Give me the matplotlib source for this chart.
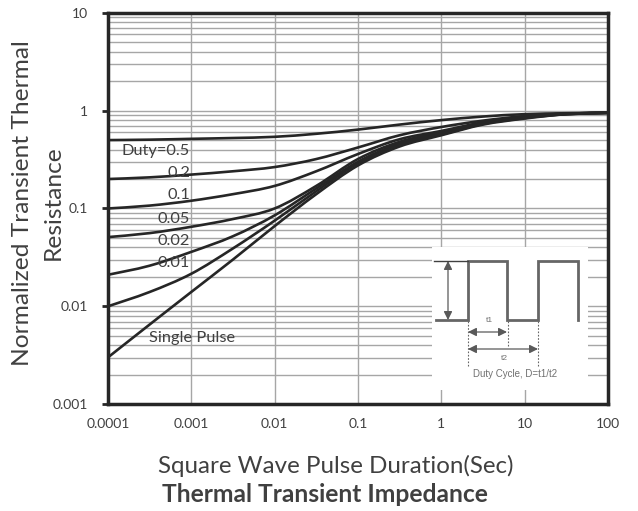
import numpy as np
import matplotlib.pyplot as plt
from matplotlib.patches import FancyArrowPatch, PathPatch
from matplotlib.path import Path
from matplotlib.ticker import LogLocator, NullFormatter

plt.rcParams['font.family'] = ['Lato', 'DejaVu Sans']

# pulse duration (s) at decade and half-decade points
t = [1e-4, 3.16e-4, 1e-3, 3.16e-3, 1e-2, 3.16e-2, 0.1, 0.316, 1, 3.16, 10, 31.6, 100]

duty_05 = [0.50, 0.505, 0.515, 0.525, 0.54, 0.58, 0.64, 0.72, 0.80, 0.87, 0.92, 0.94, 0.95]
duty_02 = [0.20, 0.208, 0.222, 0.24, 0.265, 0.32, 0.42, 0.56, 0.68, 0.79, 0.88, 0.93, 0.95]
duty_01 = [0.10, 0.107, 0.12, 0.14, 0.17, 0.24, 0.36, 0.51, 0.62, 0.76, 0.87, 0.93, 0.95]
duty_005 = [0.051, 0.056, 0.065, 0.078, 0.10, 0.17, 0.32, 0.48, 0.60, 0.75, 0.86, 0.93, 0.95]
duty_002 = [0.021, 0.026, 0.036, 0.052, 0.085, 0.16, 0.30, 0.46, 0.58, 0.74, 0.85, 0.92, 0.95]
duty_001 = [0.010, 0.014, 0.0215, 0.039, 0.075, 0.15, 0.29, 0.45, 0.57, 0.73, 0.84, 0.92, 0.95]
single = [0.003, 0.0065, 0.014, 0.030, 0.066, 0.14, 0.275, 0.43, 0.56, 0.72, 0.83, 0.92, 0.95]

series = [duty_05, duty_02, duty_01, duty_005, duty_002, duty_001, single]
labels = ['Duty=0.5', '0.2', '0.1', '0.05', '0.02', '0.01']
label_y = [0.39, 0.233, 0.136, 0.079, 0.047, 0.0275]

xticks = [1e-4, 1e-3, 1e-2, 1e-1, 1, 10, 100]
xticklabels = ['0.0001', '0.001', '0.01', '0.1', '1', '10', '100']
yticks = [1e-3, 1e-2, 1e-1, 1, 10]
yticklabels = ['0.001', '0.01', '0.1', '1', '10']

fig = plt.figure(figsize=(6.38, 5.11), dpi=100)
ax = fig.add_axes([0.169, 0.209, 0.784, 0.766])
ax.set_xscale('log')
ax.set_yscale('log')
ax.set_xlim(1e-4, 100)
ax.set_ylim(1e-3, 10)
renderer = fig.canvas.get_renderer()


def fit(txt, target_px):
    # scale a text so its long side matches the width measured on the reference
    bb = txt.get_window_extent(renderer)
    txt.set_fontsize(txt.get_fontsize() * target_px / max(bb.width, bb.height))


def smooth(x, y):
    # smoothed line like the spreadsheet one, built in log space through the points
    p = np.column_stack([np.log10(x), np.log10(y)])
    n = len(p)
    verts, codes = [p[0]], [Path.MOVETO]
    for i in range(n - 1):
        a = p[max(i - 1, 0)]
        d = p[min(i + 2, n - 1)]
        verts += [p[i] + (p[i + 1] - a) / 6, p[i + 1] - (d - p[i]) / 6, p[i + 1]]
        codes += [Path.CURVE4] * 3
    return Path(10 ** np.array(verts), codes)


ax.grid(True, which='major', axis='x', color='#a6a6a6', lw=1)
ax.grid(True, which='both', axis='y', color='#a6a6a6', lw=1)
ax.set_axisbelow(True)

for s in series:
    ax.add_patch(PathPatch(smooth(t, s), fill=False, edgecolor='#262626', lw=1.9))

first = None
for lab, ly in zip(labels, label_y):
    tx = ax.text(9.7e-4, ly, lab, ha='right', va='center', fontsize=12, color='#404040')
    if first is None:
        first = tx
fit(first, 68)
lab_size = first.get_fontsize()
for tx in ax.texts[1:]:
    tx.set_fontsize(lab_size)
ax.text(3.1e-4, 0.0047, 'Single Pulse', ha='left', va='center', fontsize=lab_size, color='#404040')

ax.set_xticks(xticks)
ax.set_xticklabels(xticklabels)
ax.set_yticks(yticks)
ax.set_yticklabels(yticklabels)
ax.yaxis.set_minor_locator(LogLocator(base=10, subs=np.arange(2, 10)))
ax.yaxis.set_minor_formatter(NullFormatter())
ax.xaxis.set_minor_locator(plt.NullLocator())
ax.tick_params(axis='y', which='minor', length=0)
ax.tick_params(axis='y', which='major', length=4, width=2, color='#262626', pad=10,
               labelsize=10, labelcolor='#404040')
ax.tick_params(axis='x', which='major', length=0, pad=10, labelsize=10, labelcolor='#404040')
for sp in ax.spines.values():
    sp.set_linewidth(2.5)
    sp.set_color('#262626')

# axis titles: positions and widths measured on the reference (pixels)
yl = fig.text(23 / 638, 1 - 203 / 511, 'Normalized Transient Thermal', rotation=90,
              ha='center', va='center', fontsize=16, color='#404040')
fit(yl, 327)
fig.text(53 / 638, 1 - 203 / 511, 'Resistance', rotation=90, ha='center', va='center',
         fontsize=yl.get_fontsize(), color='#404040')
xl = fig.text(336 / 638, 1 - 466 / 511, 'Square Wave Pulse Duration(Sec)', ha='center',
              va='center', fontsize=16, color='#404040')
fit(xl, 357)
tl = fig.text(325 / 638, 1 - 494 / 511, 'Thermal Transient Impedance', ha='center',
              va='center', fontsize=15, fontweight='bold', color='#404040')
fit(tl, 327)

# inset sketch of the duty cycle (pixel-like local coordinates)
ins = fig.add_axes([432 / 638, 1 - 390 / 511, 156 / 638, 143 / 511])
ins.set_xlim(-2, 154)
ins.set_ylim(143, 0)
ins.axis('off')
ins.add_patch(plt.Rectangle((-2, 0), 156, 143, color='white', zorder=0))
wc = '#666666'
ins.plot([2, 34, 34, 73, 73, 104, 104, 144, 144], [73, 73, 14, 14, 73, 73, 14, 14, 73],
         color=wc, lw=2, solid_joinstyle='miter')
ins.plot([0, 34], [14, 14], color='#404040', lw=1)
for x0, y1 in [(33.5, 120), (73.5, 100), (104, 120)]:
    ins.plot([x0, x0], [74, y1], color=wc, lw=0.8, ls=(0, (1.5, 1.5)))


def arrow(x0, y0, x1, y1):
    ins.add_patch(FancyArrowPatch((x0, y0), (x1, y1), arrowstyle='<|-|>,head_length=5,head_width=2.5',
                                  color='#595959', lw=0.9, shrinkA=0, shrinkB=0))


arrow(14, 14, 14, 73)
arrow(34, 85, 73, 85)
arrow(34, 102, 104, 102)
ins.text(55, 73, 't1', ha='center', va='center', fontsize=6, color='#707070', family='Liberation Sans')
ins.text(70, 111, 't2', ha='center', va='center', fontsize=6, color='#707070', family='Liberation Sans')
ins.text(81, 127, 'Duty Cycle, D=t1/t2', ha='center', va='center', fontsize=7,
         color='#707070', family='Liberation Sans')

fig.savefig('out.png', dpi=100)
